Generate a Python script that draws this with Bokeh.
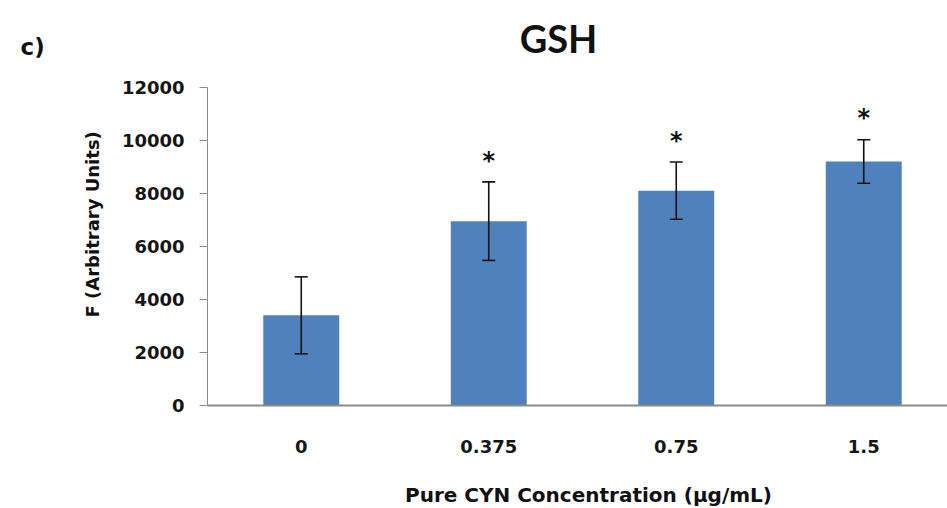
from bokeh.plotting import figure
from bokeh.models import ColumnDataSource, Whisker, TeeHead, Label, FixedTicker, Range1d
from bokeh.core.properties import value
from bokeh.embed import file_html
from bokeh.resources import INLINE

# GSH fluorescence by pure CYN concentration
concentrations = ["0", "0.375", "0.75", "1.5"]
gsh_mean = [3400, 6950, 8100, 9200]
gsh_sd = [1450, 1480, 1080, 820]
significant = [False, True, True, True]
y_ticks = [0, 2000, 4000, 6000, 8000, 10000, 12000]

FONT = "DejaVu Sans"
BAR_COLOR = "#4F81BD"
AXIS_COLOR = "#8a8a8a"
TEXT_COLOR = "#111111"

# the frame spans the whole canvas; the axes sit at fixed data locations
X_START, X_END = -1.604, 3.4467
Y_START, Y_END = -3883, 15268

xs = list(range(len(concentrations)))
src = ColumnDataSource(dict(
    x=xs,
    top=gsh_mean,
    upper=[m + s for m, s in zip(gsh_mean, gsh_sd)],
    lower=[m - s for m, s in zip(gsh_mean, gsh_sd)],
))

star_x = [x for x, sig in zip(xs, significant) if sig]
star_y = [m + s + 800 for m, s, sig in zip(gsh_mean, gsh_sd, significant) if sig]
star_src = ColumnDataSource(dict(x=star_x, y=star_y, t=["*"] * len(star_x)))

p = figure(width=947, height=508, output_backend="svg", toolbar_location=None,
           x_range=Range1d(X_START, X_END), y_range=Range1d(Y_START, Y_END),
           min_border=0)
p.outline_line_color = None
p.xgrid.visible = False
p.ygrid.visible = False
p.background_fill_color = "white"
p.border_fill_color = "white"

p.vbar(x="x", top="top", width=0.405, bottom=0, source=src,
       fill_color=BAR_COLOR, line_color=None)

p.add_layout(Whisker(source=src, base="x", upper="upper", lower="lower",
                     level="overlay", line_color=TEXT_COLOR, line_width=1.6,
                     upper_head=TeeHead(size=13, line_color=TEXT_COLOR, line_width=1.6),
                     lower_head=TeeHead(size=13, line_color=TEXT_COLOR, line_width=1.6)))

p.text(x="x", y="y", text="t", source=star_src, text_font=value(FONT),
       text_font_style="bold", text_font_size="24px", text_align="center",
       text_baseline="alphabetic", text_color=TEXT_COLOR)

# y axis at the left edge of the category range
yax = p.yaxis[0]
yax.fixed_location = -0.5
yax.bounds = (y_ticks[0], y_ticks[-1])
yax.ticker = FixedTicker(ticks=y_ticks)
yax.axis_line_color = AXIS_COLOR
yax.major_tick_line_color = AXIS_COLOR
yax.major_tick_out = 8
yax.major_tick_in = 0
yax.minor_tick_line_color = None
yax.major_label_standoff = 15
yax.major_label_text_font = FONT
yax.major_label_text_font_style = "bold"
yax.major_label_text_font_size = "18px"
yax.major_label_text_color = "#151515"

# x axis along zero
xax = p.xaxis[0]
xax.fixed_location = 0
xax.bounds = (-0.5, X_END)
xax.ticker = FixedTicker(ticks=xs)
xax.major_label_overrides = {i: c for i, c in enumerate(concentrations)}
xax.axis_line_color = AXIS_COLOR
xax.axis_line_width = 2
xax.major_tick_line_color = None
xax.minor_tick_line_color = None
xax.major_label_standoff = 29
xax.major_label_text_font = FONT
xax.major_label_text_font_style = "bold"
xax.major_label_text_font_size = "18px"
xax.major_label_text_color = "#151515"

# title, panel letter and axis titles
texts = [
    dict(x=1.372, y=13850, text="GSH", text_font="Lato", text_font_size="38px",
         text_align="center", text_baseline="alphabetic"),
    dict(x=-1.497, y=13520, text="c)", text_font=FONT, text_font_size="23px",
         text_align="left", text_baseline="alphabetic"),
    dict(x=-1.113, y=6830, text="F (Arbitrary Units)", text_font=FONT,
         text_font_size="18px", angle=1.5708, text_align="center",
         text_baseline="middle"),
    dict(x=1.532, y=-3390, text="Pure CYN Concentration (µg/mL)", text_font=FONT,
         text_font_size="20px", text_align="center", text_baseline="alphabetic"),
]
for t in texts:
    p.add_layout(Label(level="overlay", text_font_style="bold",
                       text_color=TEXT_COLOR, **t))

open("out.html", "w").write(file_html(p, INLINE))
